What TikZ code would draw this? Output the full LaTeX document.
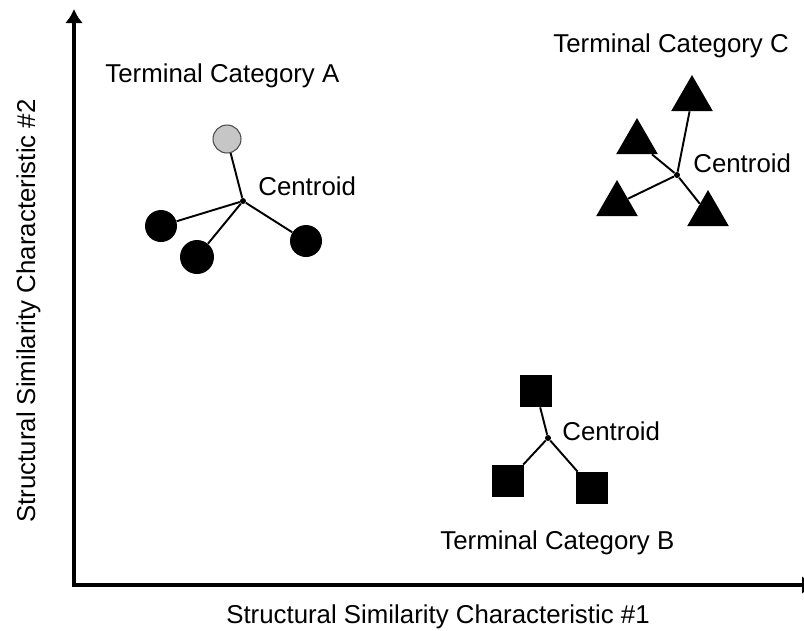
\documentclass[tikz,border=0pt]{standalone}
\usepackage{fontspec}
\setmainfont{Liberation Sans}
\usetikzlibrary{arrows.meta,shapes.geometric}
\begin{document}
\begin{tikzpicture}[x=0.02cm, y=-0.02cm,
        font=\fontsize{14.7}{17.6}\selectfont,
        axis/.style={line width=2.3pt, line cap=rect, -{Latex[length=0.28cm, width=0.36cm]}},
        spoke/.style={line width=1.1pt},
        centre/.style={circle, fill=black, inner sep=0pt, minimum size=0.12cm},
        disc/.style={circle, fill=black, inner sep=0pt, minimum size=0.64cm},
        tri/.style={regular polygon, regular polygon sides=3, fill=black, inner sep=0pt, minimum size=0.96cm},
        box/.style={rectangle, fill=black, inner sep=0pt, minimum size=0.64cm},
        lbl/.style={anchor=base west, inner sep=0pt}]
        \useasboundingbox (0,0) rectangle (804,630);
        % axes
        \coordinate (o) at (74,585);
        \coordinate (ytip) at (74,9);
        \coordinate (xtip) at (816,585);
        \draw[axis] (o) -- (ytip);
        \draw[axis] (o) -- (xtip);
        \node[anchor=base, inner sep=0pt] (xlab) at (438,623) {Structural Similarity Characteristic \#1};
        \node[anchor=base, inner sep=0pt, rotate=90] (ylab) at (35,311) {Structural Similarity Characteristic \#2};
        % category A
        \node[disc, fill=gray!45, draw=gray!60!black, line width=0.6pt, minimum size=0.56cm] (a1) at (227,139) {};
        \node[disc] (a2) at (161,226) {};
        \node[disc, minimum size=0.68cm] (a3) at (197,257) {};
        \node[disc] (a4) at (306,241) {};
        \node[centre] (ca) at (243,201) {};
        \foreach \n in {a1,a2,a3,a4} \draw[spoke] (ca) -- (\n);
        \node[lbl] (la) at (258,195) {Centroid};
        \node[lbl] (ta) at (105,82) {Terminal Category A};
        % category C
        \node[tri] (c1) at (692,99) {};
        \node[tri] (c2) at (637,142) {};
        \node[tri] (c3) at (617,204) {};
        \node[tri] (c4) at (708,214) {};
        \node[centre] (cc) at (677,175) {};
        \foreach \n in {c1,c2,c3,c4} \draw[spoke] (cc) -- (\n);
        \node[lbl] (lc) at (693,172) {Centroid};
        \node[lbl] (tc) at (553,52) {Terminal Category C};
        % category B
        \node[box] (b1) at (536,391) {};
        \node[box] (b2) at (508,481) {};
        \node[box] (b3) at (592,488) {};
        \node[centre] (cb) at (548,438) {};
        \foreach \n in {b1,b2,b3} \draw[spoke] (cb) -- (\n);
        \node[lbl] (lb) at (562,440) {Centroid};
        \node[lbl] (tb) at (440,549) {Terminal Category B};
    \end{tikzpicture}
\end{document}
